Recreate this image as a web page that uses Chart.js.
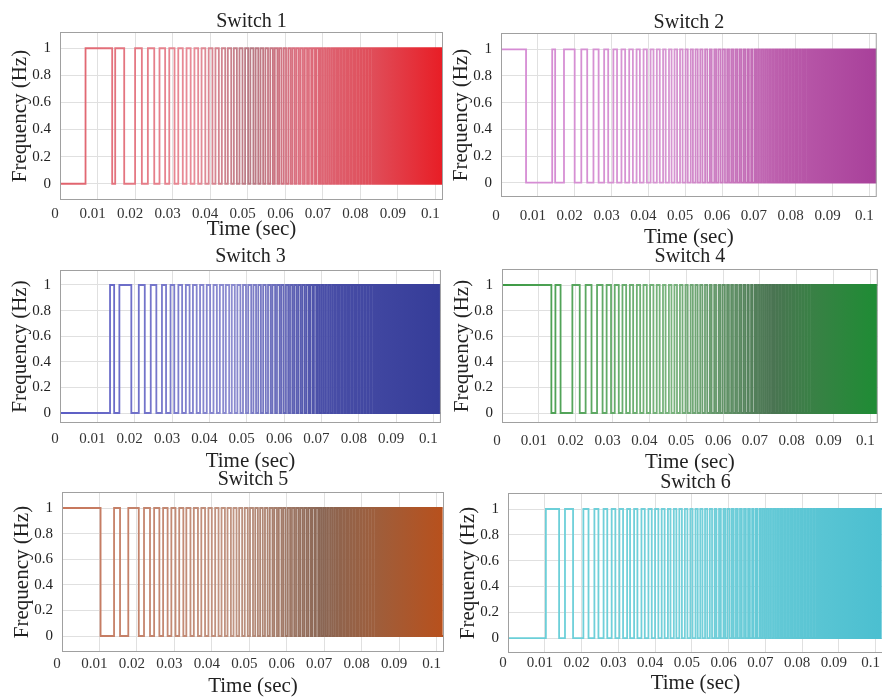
<!DOCTYPE html>
<html>
<head>
<meta charset="utf-8">
<script src="https://cdn.jsdelivr.net/npm/chart.js@4.4.1/dist/chart.umd.min.js"></script>
<style>
  html, body { margin: 0; padding: 0; background: #fff; overflow: hidden; }
  body { width: 882px; height: 697px; position: relative; }
  canvas { position: absolute; }
</style>
</head>
<body>
<script>
// toggle instants (sec), the level flips at every entry.
// Switch 2, 4, 6 flip at the same instants as 1, 3, 5 (complementary legs).
const edges1 = [0.0068, 0.0139, 0.0147, 0.0171, 0.0200, 0.0218, 0.0234, 0.0251, 0.0265, 0.0280, 0.0291, 0.0305, 0.0315, 0.0327, 0.0337, 0.0348, 0.0358, 0.0368, 0.0377,
  0.0387, 0.0396, 0.0406, 0.0414, 0.0423, 0.0431, 0.0440, 0.0447, 0.0456, 0.0463, 0.0471, 0.0478, 0.0486, 0.0493, 0.0501, 0.0507, 0.0515, 0.0521, 0.0528, 0.0534,
  0.0541, 0.0547, 0.0554, 0.0560, 0.0567, 0.0572, 0.0579, 0.0584, 0.0590, 0.0596, 0.0602, 0.0608, 0.0614, 0.0619, 0.0625, 0.0630, 0.0636, 0.0641, 0.0647, 0.0652,
  0.0658, 0.0663, 0.0669, 0.0673, 0.0679, 0.0683, 0.0689, 0.0693, 0.0698, 0.0703, 0.0708, 0.0713, 0.0718, 0.0723, 0.0728, 0.0732, 0.0737, 0.0741, 0.0746, 0.0750,
  0.0755, 0.0759, 0.0764, 0.0768, 0.0773, 0.0777, 0.0782, 0.0786, 0.0791, 0.0795, 0.0800, 0.0804, 0.0809, 0.0812, 0.0817, 0.0820, 0.0825, 0.0828, 0.0833, 0.0836,
  0.0840, 0.0844, 0.0848, 0.0852, 0.0856, 0.0860, 0.0864, 0.0868, 0.0872, 0.0876, 0.0880, 0.0884, 0.0888, 0.0892, 0.0896, 0.0900, 0.0904, 0.0908, 0.0912, 0.0915,
  0.0919, 0.0922, 0.0926, 0.0929, 0.0933, 0.0936, 0.0940, 0.0943, 0.0947, 0.0950, 0.0954, 0.0957, 0.0961, 0.0964, 0.0968, 0.0971, 0.0975, 0.0978, 0.0982, 0.0985,
  0.0989, 0.0992, 0.0996, 0.0999, 0.1003, 0.1006, 0.1010, 0.1013, 0.1017];

const edges3 = [0.0134, 0.0145, 0.0159, 0.0191, 0.0211, 0.0227, 0.0243, 0.0258, 0.0273, 0.0284, 0.0296, 0.0306, 0.0317, 0.0327, 0.0337, 0.0347, 0.0356, 0.0366,
  0.0375, 0.0384, 0.0393, 0.0402, 0.0411, 0.0420, 0.0428, 0.0437, 0.0444, 0.0453, 0.0460, 0.0468, 0.0475, 0.0483, 0.0490, 0.0498, 0.0504, 0.0512, 0.0518, 0.0525,
  0.0531, 0.0538, 0.0544, 0.0551, 0.0557, 0.0564, 0.0569, 0.0576, 0.0581, 0.0588, 0.0593, 0.0599, 0.0605, 0.0611, 0.0616, 0.0622, 0.0627, 0.0633, 0.0638, 0.0644,
  0.0649, 0.0655, 0.0660, 0.0666, 0.0670, 0.0676, 0.0680, 0.0686, 0.0690, 0.0695, 0.0700, 0.0705, 0.0710, 0.0715, 0.0720, 0.0725, 0.0730, 0.0735, 0.0739, 0.0744,
  0.0748, 0.0753, 0.0757, 0.0762, 0.0766, 0.0771, 0.0775, 0.0780, 0.0784, 0.0789, 0.0793, 0.0798, 0.0802, 0.0807, 0.0811, 0.0816, 0.0819, 0.0824, 0.0827, 0.0832,
  0.0835, 0.0840, 0.0843, 0.0847, 0.0851, 0.0855, 0.0859, 0.0863, 0.0867, 0.0871, 0.0875, 0.0879, 0.0883, 0.0887, 0.0891, 0.0895, 0.0899, 0.0903, 0.0907, 0.0911,
  0.0914, 0.0918, 0.0921, 0.0925, 0.0928, 0.0932, 0.0935, 0.0939, 0.0942, 0.0946, 0.0949, 0.0953, 0.0956, 0.0960, 0.0963, 0.0967, 0.0970, 0.0974, 0.0977, 0.0981,
  0.0984, 0.0988, 0.0991, 0.0995, 0.0998, 0.1002, 0.1005, 0.1009, 0.1012, 0.1016];

const edges5 = [0.0103, 0.0139, 0.0155, 0.0177, 0.0205, 0.0219, 0.0235, 0.0246, 0.0260, 0.0270, 0.0282, 0.0292, 0.0303, 0.0313, 0.0324, 0.0332,
  0.0343, 0.0352, 0.0363, 0.0372, 0.0382, 0.0391, 0.0400, 0.0409, 0.0418, 0.0426, 0.0435, 0.0442, 0.0451, 0.0458, 0.0466, 0.0473, 0.0481, 0.0488, 0.0496, 0.0502,
  0.0510, 0.0516, 0.0523, 0.0529, 0.0536, 0.0542, 0.0549, 0.0555, 0.0562, 0.0567, 0.0574, 0.0579, 0.0586, 0.0591, 0.0597, 0.0603, 0.0609, 0.0614, 0.0620, 0.0625,
  0.0631, 0.0636, 0.0642, 0.0647, 0.0653, 0.0658, 0.0664, 0.0668, 0.0674, 0.0678, 0.0684, 0.0688, 0.0693, 0.0698, 0.0703, 0.0708, 0.0713, 0.0718, 0.0723, 0.0728,
  0.0733, 0.0737, 0.0742, 0.0746, 0.0751, 0.0755, 0.0760, 0.0764, 0.0769, 0.0773, 0.0778, 0.0782, 0.0787, 0.0791, 0.0796, 0.0800, 0.0805, 0.0809, 0.0814, 0.0817,
  0.0822, 0.0825, 0.0830, 0.0833, 0.0838, 0.0841, 0.0845, 0.0849, 0.0853, 0.0857, 0.0861, 0.0865, 0.0869, 0.0873, 0.0877, 0.0881, 0.0885, 0.0889, 0.0893, 0.0897,
  0.0901, 0.0905, 0.0909, 0.0912, 0.0916, 0.0919, 0.0923, 0.0926, 0.0930, 0.0933, 0.0937, 0.0940, 0.0944, 0.0947, 0.0951, 0.0954, 0.0958, 0.0961, 0.0965, 0.0968,
  0.0972, 0.0975, 0.0979, 0.0982, 0.0986, 0.0989, 0.0993, 0.0996, 0.1000, 0.1003, 0.1007, 0.1010, 0.1014];

const titles = ["Switch 1", "Switch 2", "Switch 3", "Switch 4", "Switch 5", "Switch 6"];
const switchEdges = [edges1, edges1, edges3, edges3, edges5, edges5];
const startLevels = [0, 1, 0, 1, 1, 0];
const xTicks = [0, 0.01, 0.02, 0.03, 0.04, 0.05, 0.06, 0.07, 0.08, 0.09, 0.1];
const yTicks = [0, 0.2, 0.4, 0.6, 0.8, 1];
const tEnd = 0.102;

// where each axes box sits on the page
const panels = [
  { L: 60,  R: 444, T: 32,  B: 200, yMin: -0.12,  yMax: 1.12,  gap: 0, tickPad: 5,  xh: 42, padR: 6 },
  { L: 501, R: 885, T: 33,  B: 197, yMin: -0.107, yMax: 1.122, gap: 0, tickPad: 10, xh: 53, padR: 4 },
  { L: 60,  R: 444, T: 270, B: 423, yMin: -0.078, yMax: 1.117, gap: 3, tickPad: 7,  xh: 51, padR: 6 },
  { L: 502, R: 885, T: 269, B: 423, yMin: -0.078, yMax: 1.125, gap: 2, tickPad: 9,  xh: 52, padR: 4 },
  { L: 62,  R: 444, T: 492, B: 652, yMin: -0.125, yMax: 1.125, gap: 2, tickPad: 3,  xh: 47, padR: 6 },
  { L: 508, R: 883, T: 493, B: 653, yMin: -0.116, yMax: 1.124, gap: 0, tickPad: 1,  xh: 43, padR: 4 },
];

const colorStops = [
  [[0, "#e0606a"], [0.35, "#e88c98"], [0.5, "#b87a84"], [0.62, "#dc7080"], [0.82, "#e04c58"], [1, "#e81d25"]],
  [[0, "#d58ad4"], [0.45, "#d796d2"], [0.75, "#bb5cab"], [1, "#a8409a"]],
  [[0, "#5a5cc4"], [0.45, "#8c8cd0"], [0.68, "#4a4fa8"], [1, "#353c98"]],
  [[0, "#3c9a44"], [0.45, "#7ab47e"], [0.72, "#4a7452"], [0.82, "#3a8046"], [1, "#1e8c34"]],
  [[0, "#c8765a"], [0.45, "#c09482"], [0.68, "#8a6654"], [0.82, "#9e5e3c"], [1, "#b8501c"]],
  [[0, "#6acfd8"], [0.5, "#74d0da"], [1, "#4bbfd0"]],
];

const serif = "'Liberation Serif', 'Times New Roman', serif";
const yAxisWidth = 52;

function tracePoints(edges, start) {
  let level = start;
  const pts = [{ x: 0, y: level }];
  edges.forEach((t) => {
    level = 1 - level;
    pts.push({ x: t, y: level });
  });
  pts.push({ x: tEnd, y: level });
  return pts;
}

function gradientStroke(stops) {
  return (context) => {
    const { chart } = context;
    const area = chart.chartArea;
    if (!area) return stops[0][1];
    const g = chart.ctx.createLinearGradient(area.left, 0, area.right, 0);
    stops.forEach(([o, c]) => g.addColorStop(o, c));
    return g;
  };
}

const frame = {
  id: "frame",
  afterDraw(chart) {
    const { ctx, chartArea: a } = chart;
    ctx.save();
    ctx.strokeStyle = "#a0a0a0";
    ctx.lineWidth = 1;
    ctx.strokeRect(a.left + 0.5, a.top + 0.5, a.width - 1, a.height - 1);
    ctx.restore();
  },
};

panels.forEach((p, i) => {
  const canvas = document.createElement("canvas");
  const left = p.L - yAxisWidth;
  const top = p.T - 20 - p.gap;
  const width = p.R + p.padR - left;
  const height = p.B + p.xh - top;
  canvas.width = width;
  canvas.height = height;
  canvas.style.left = left + "px";
  canvas.style.top = top + "px";
  canvas.style.width = width + "px";
  canvas.style.height = height + "px";
  document.body.appendChild(canvas);

  new Chart(canvas.getContext("2d"), {
    type: "line",
    data: {
      datasets: [
        {
          data: tracePoints(switchEdges[i], startLevels[i]),
          stepped: true,
          borderColor: gradientStroke(colorStops[i]),
          borderWidth: 1.8,
          pointRadius: 0,
          fill: false,
        },
      ],
    },
    options: {
      responsive: false,
      animation: false,
      devicePixelRatio: 1,
      parsing: false,
      events: [],
      layout: { padding: { left: 0, right: p.padR, top: 0, bottom: 0 } },
      plugins: {
        legend: { display: false },
        tooltip: { enabled: false },
        title: {
          display: true,
          text: titles[i],
          fullSize: false,
          color: "#222",
          font: { family: serif, size: 20, weight: "normal", lineHeight: 1 },
          padding: { top: 0, bottom: p.gap },
        },
      },
      scales: {
        x: {
          type: "linear",
          min: 0,
          max: tEnd,
          afterBuildTicks: (s) => { s.ticks = xTicks.map((v) => ({ value: v })); },
          afterFit: (s) => { s.height = p.xh; },
          grid: { color: "#e0e0e0", drawTicks: false },
          border: { display: false },
          ticks: {
            padding: p.tickPad,
            labelOffset: -5,
            autoSkip: false,
            maxRotation: 0,
            color: "#333",
            font: { family: serif, size: 15 },
            callback: (v) => String(v),
          },
          title: {
            display: true,
            text: "Time (sec)",
            color: "#222",
            font: { family: serif, size: 21 },
            padding: 0,
          },
        },
        y: {
          min: p.yMin,
          max: p.yMax,
          afterBuildTicks: (s) => { s.ticks = yTicks.map((v) => ({ value: v })); },
          afterFit: (s) => { s.width = yAxisWidth; },
          grid: { color: "#e0e0e0", drawTicks: false },
          border: { display: false },
          ticks: {
            padding: 9,
            color: "#222",
            font: { family: serif, size: 15 },
            callback: (v) => String(v),
          },
          title: {
            display: true,
            text: "Frequency (Hz)",
            color: "#222",
            font: { family: serif, size: 21 },
            padding: { top: 0, bottom: 0 },
          },
        },
      },
    },
    plugins: [frame],
  });
});
</script>
</body>
</html>
